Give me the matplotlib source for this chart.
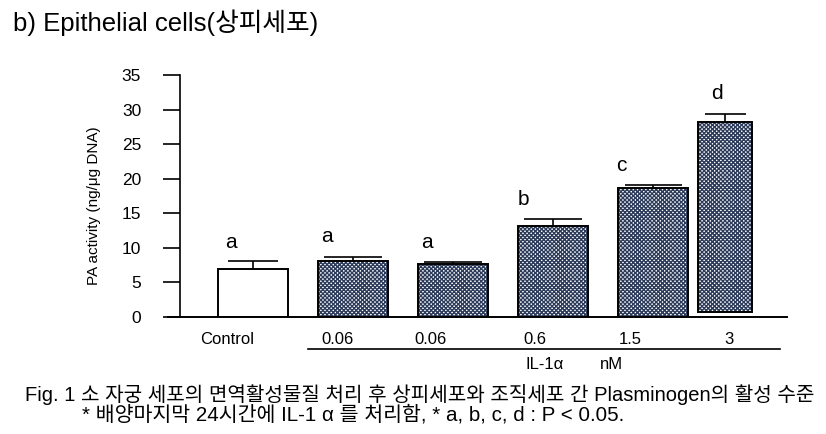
"""PA activity of epithelial cells treated with IL-1 alpha (Fig. 1 b)."""

import matplotlib
matplotlib.use("Agg")
import matplotlib.pyplot as plt

plt.rcParams["font.family"] = ["Liberation Sans", "Noto Sans CJK KR"]
plt.rcParams["hatch.linewidth"] = 1.0

# data
groups = ["Control", "0.06", "0.06", "0.6", "1.5", "3"]
means = [6.9, 8.0, 7.6, 13.1, 18.6, 28.2]
errors = [1.1, 0.6, 0.3, 1.0, 0.4, 1.2]
bottoms = [0, 0, 0, 0, 0, 0.7]
letters = ["a", "a", "a", "b", "c", "d"]
y_ticks = [0, 5, 10, 15, 20, 25, 30, 35]

# layout (x in units of 100 px from the first bar centre)
bar_x = [0, 1, 2, 3, 4, 4.72]
bar_w = [0.70, 0.70, 0.70, 0.70, 0.70, 0.54]
cap_w = [0.50, 0.58, 0.58, 0.58, 0.57, 0.41]
label_x = [-0.26, 0.84, 1.77, 2.82, 3.77, 4.76]
letter_dx = [-0.22, -0.26, -0.26, -0.30, -0.32, -0.08]
letter_y = [10.7, 11.6, 10.7, 16.9, 21.9, 32.3]
navy = "#2c3b5a"

fig = plt.figure(figsize=(8.26, 4.34), dpi=100)
ax = fig.add_axes([0.2034, 0.2703, 0.7494, 0.5569])

for i, (x, m, e, b) in enumerate(zip(bar_x, means, errors, bottoms)):
    if i == 0:
        ax.bar(x, m - b, bottom=b, width=bar_w[i], color="white",
               edgecolor="black", linewidth=1.4, zorder=2)
    else:
        ax.bar(x, m - b, bottom=b, width=bar_w[i], color="white",
               edgecolor=navy, hatch="xxxxxxxx", linewidth=0, zorder=2)
        ax.bar(x, m - b, bottom=b, width=bar_w[i], color="none",
               edgecolor="black", linewidth=1.4, zorder=3)
    ax.vlines(x, m, m + e, color="black", linewidth=1.2, zorder=3)
    ax.hlines(m + e, x - cap_w[i] / 2, x + cap_w[i] / 2, color="black",
              linewidth=1.2, zorder=3)
    ax.text(x + letter_dx[i], letter_y[i], letters[i], fontsize=15,
            ha="center", va="center")

ax.set_xlim(-0.85, 5.34)
ax.set_ylim(0, 35)
ax.spines["top"].set_visible(False)
ax.spines["right"].set_visible(False)
ax.spines["left"].set_position(("data", -0.73))
ax.spines["left"].set_bounds(0, 35)
ax.spines["left"].set_linewidth(1.2)
ax.spines["bottom"].set_linewidth(1.4)
ax.set_yticks(y_ticks)
ax.tick_params(axis="y", direction="out", length=12, width=1.2,
               labelsize=12.5, pad=16)
ax.set_xticks(label_x)
ax.set_xticklabels(groups)
ax.tick_params(axis="x", length=0, labelsize=12, pad=11)
ax.set_ylabel("PA activity (ng/μg DNA)", fontsize=11)
ax.yaxis.set_label_coords(-0.108, 0.458)

# group line and IL-1α / nM labels under the tick labels
ax.plot([0.55, 5.27], [-4.69, -4.69], color="black", linewidth=1.2,
        clip_on=False)
ax.text(2.72, -6.9, "IL-1α", fontsize=12, ha="left", va="center")
ax.text(3.47, -6.9, "nM", fontsize=12, ha="left", va="center")

fig.text(0.016, 0.948, "b) Epithelial cells(상피세포)", fontsize=18.5,
         ha="left", va="center")
fig.text(0.030, 0.090,
         "Fig. 1 소 자궁 세포의 면역활성물질 처리 후 상피세포와 조직세포 간 "
         "Plasminogen의 활성 수준", fontsize=14.5, ha="left", va="center")
fig.text(0.099, 0.044,
         "* 배양마지막 24시간에 IL-1 α 를 처리함, * a, b, c, d : P < 0.05.",
         fontsize=14.8, ha="left", va="center")

fig.savefig("out.png", dpi=100)
plt.close(fig)
